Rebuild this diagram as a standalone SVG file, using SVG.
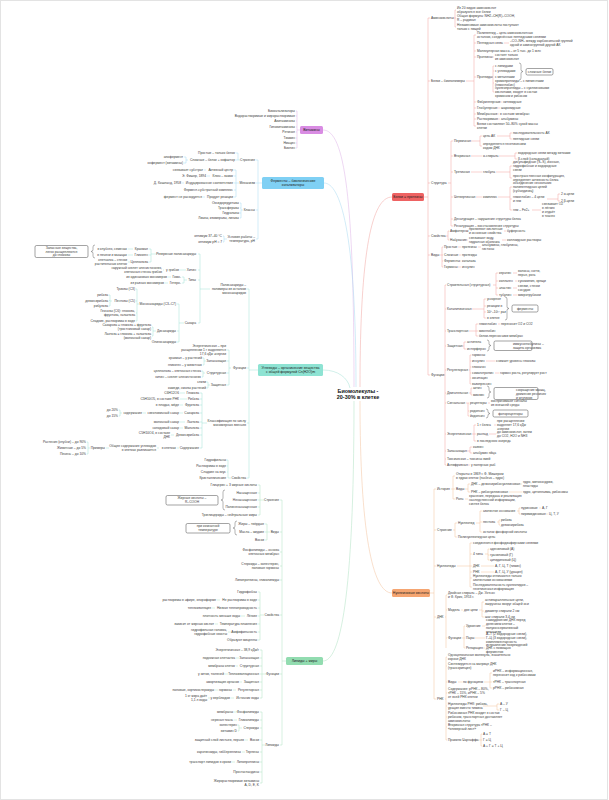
<svg xmlns="http://www.w3.org/2000/svg" width="609" height="800" viewBox="0 0 609 800">
<style>
text{font-family:"Liberation Sans",Arial,sans-serif}
.t{font-size:3.3px;fill:#3a3a3a}
.e{text-anchor:end}
.b{font-size:3.5px;fill:#222;text-anchor:middle}
.m{font-size:5.4px;font-weight:bold;fill:#111;text-anchor:middle}
.bx{fill:#fff;stroke:#333;stroke-width:.45}
.br{fill:none;stroke:#444;stroke-width:.4}
path{fill:none;stroke-width:.5}
.cr path{stroke:#f0a29e}.co path{stroke:#f3c19b}.cp path{stroke:#dcb0e6}
.cc path{stroke:#a6d8f1}.ct path{stroke:#a3e0d4}.cg path{stroke:#ade0c1}
</style>
<rect x="0.5" y="0.5" width="607" height="799" fill="#fff" stroke="#e3e3e3"/>
<g id="connectors">
<g class="cr">
<path d="M360,387C360,250 372,197 392,197"/>
<path d="M424,197H428M428,18V375M428,18H430M428,81H430M428,183H430M428,236H430M428,255H430M428,375H430"/>
<path d="M453,18H455M455,10V27M455,10H456M455,18H456M455,27H456"/>
<path d="M466,81H474M474,35V126M474,35H476M474,43H476M474,51H476M474,57H476M474,77H476M474,102H476M474,108H476M474,114H476M474,119H476M474,126H476"/>
<path d="M504,43H509M492,57H494M492,77H493M493,66V92M493,66H494M493,71H494M493,83H494M493,92H494M499,102H502M497,108H500M496,114H499M497,119H500"/>
<path d="M448,183H451M451,141V226M451,141H453M451,156H453M451,172H453M451,197H453M451,219H453M451,226H453"/>
<path d="M471,141H480M480,136V146M480,136H482M480,146H482M497,136H510M510,133V139M510,133H512M510,139H512"/>
<path d="M471,156H482M499,156H515M515,153V159M515,153H517M515,159H517M471,172H482M496,172H510M510,166V178M510,166H512M510,178H512"/>
<path d="M476,197H482M498,197H510M510,187V210M510,187H512M510,199H512M510,210H512M547,199H558M558,194V201M558,194H560M558,201H560M532,210H541"/>
<path d="M446,236H448M448,231V240M448,231H449M448,240H449M466,231H468M466,240H468M504,231H506M502,240H506"/>
<path d="M440,255H442M442,247V267M442,247H443M442,255H443M442,261H443M442,267H443M458,247H461M478,247H481M459,255H461M459,261H461M458,267H461"/>
<path d="M444,375H445M445,285V465M445,285H446M445,309H446M445,331H446M445,346H446M445,370H446M445,393H446M445,403H446M445,434H446M445,451H446M445,459H446M445,465H446"/>
<path d="M493,285H496M496,273V295M496,273H498M496,281H498M496,288H498M496,295H498M513,273H517M515,281H517M513,288H517M513,295H517"/>
<path d="M472,309H484M484,299V318M484,299H486M484,306H486M484,312H486M484,318H486"/>
<path d="M469,331H476M476,324V336M476,324H478M476,331H478M476,336H478M498,324H500"/>
<path d="M462,346H464M464,342V349M464,342H466M464,349H466"/>
<path d="M469,370H470M470,355V384M470,355H471M470,361H471M470,367H471M470,373H471M470,378H471M470,384H471M486,361H495M495,373H499"/>
<path d="M469,393H471M471,388V395M471,388H472M471,395H472"/>
<path d="M466,403H468M468,403V416M468,403H469M468,411H469M468,416H469M488,403H490"/>
<path d="M472,434H474M474,425V441M474,425H476M474,434H476M474,441H476M494,425H496M489,434H496"/>
<path d="M467,451H470M470,447V453M470,447H472M470,453H472M468,465H470"/>
</g>
<g class="co">
<path d="M360,401C360,530 372,593 392,593"/>
<path d="M430,593H434M434,489V699M434,489H436M434,530H436M434,566H436M434,617H436M434,699H436"/>
<path d="M451,489H453M453,476V499M453,476H455M453,489H455M453,499H455M465,489H468M468,484V492M468,484H470M468,492H470M520,484H522M509,492H522M465,499H468"/>
<path d="M453,530H455M455,523V537M455,523H457M455,537H457M476,523H480M480,511V532M480,511H482M480,522H482M480,532H482M517,511H519M519,508V514M519,508H520M519,514H520M539,508H541M546,514H548M497,522H499M499,520V525M499,520H500M499,525H500"/>
<path d="M457,566H470M470,543V587M470,543H472M470,554H472M470,566H472M470,572H472M470,578H472M470,587H472M485,554H488M488,549V560M488,549H489M488,555H489M488,560H489M481,566H494M481,572H494"/>
<path d="M445,617H446M446,595V648M446,595H447M446,610H447M446,638H447M461,610H463M479,610H482M482,602V617M482,602H484M482,611H484M482,617H484"/>
<path d="M462,638H464M464,626V648M464,626H465M464,638H465M464,648H465M482,626H485M475,638H485M483,648H485"/>
<path d="M445,699H446M446,657V740M446,657H447M446,666H447M446,682H447M446,693H447M446,706H447M446,717H447M446,727H447M446,740H447"/>
<path d="M458,682H462M484,682H490M490,673V688M490,673H492M490,682H492M490,688H492M483,706H497M497,704V710M497,704H499M497,710H499M478,740H481M481,734V746M481,734H482M481,740H482M481,746H482"/>
</g>
<g class="cp">
<path d="M354,387C354,200 345,130 323,130"/>
<path d="M300,130H297M297,111V148M297,111H296M297,116H296M297,121H296M297,127H296M297,132H296M297,138H296M297,143H296M297,148H296"/>
</g>
<g class="cc">
<path d="M356,387C356,230 340,183 324,183"/>
<path d="M262,183H258M258,160V239M258,160H256M258,183H256M258,210H256M258,239H256"/>
<path d="M240,160H238M238,153V160M238,153H236M238,160H236M188,160H186M186,157V163M186,157H184M186,163H184"/>
<path d="M239,183H236M236,170V197M236,170H234M236,176H234M236,183H234M236,190H234M236,197H234M206,170H204M210,176H207M184,183H182M205,197H203"/>
<path d="M243,210H241M241,203V218M241,203H240M241,208H240M241,213H240M241,218H240M227,239H224M224,236V242M224,236H223M224,242H223"/>
</g>
<g class="ct">
<path d="M350,388C348,378 338,370 323,370"/>
<path d="M258,370H249M249,289V478M249,289H247M249,368H247M249,423H247M249,478H247"/>
<path d="M210,289H200M200,254V323M200,254H198M200,270H198M200,280H198M200,323H198"/>
<path d="M157,254H151M151,249V262M151,249H149M151,255H149M151,262H149M133,249H128M133,255H128M130,262H128M186,270H180M164,270H163M187,280H184M184,277V283M184,277H182M184,283H182M171,277H168M168,283H165"/>
<path d="M184,323H179M179,304V342M179,304H177M179,331H177M179,342H177M139,304H137M137,289V321M137,289H136M137,301H136M137,313H136M137,321H136M112,301H110M110,295V306M110,295H109M110,300.5H109M110,306H109M156,331H153M153,327V336M153,327H152M153,336H152"/>
<path d="M231,368H229M229,350V385M229,350H227M229,361H227M229,373H227M229,385H227M206,361H204M204,358V365M204,358H203M204,365H203M205,373H203M203,371V377M203,371H202M203,377H202M210,385H208M208,382V388M208,382H207M208,388H207"/>
<path d="M207,423H202M202,393V448M202,393H200M202,399H200M202,405H200M202,413H200M202,422H200M202,428H200M202,435H200M202,448H200"/>
<path d="M185,393H180M187,399H180M183,405H180M183,413H180M185,422H180M183,428H180M174,435H171M146,413H143M122,413H120M120,410V416M120,410H119M120,416H119M179,448H177M159,448H157M109,448H106M90,448H88M88,442V454M88,442H87M88,454H87"/>
<path d="M231,478H228M228,460V478M228,460H227M228,466H227M228,472H227"/>
</g>
<g class="cg">
<path d="M354,401C354,600 340,661 323,661"/>
<path d="M286,661H282M282,500V745M282,500H280M282,532H280M282,552H280M282,566H280M282,580H280M282,615H280M282,674H280M282,745H280"/>
<path d="M264,500H260M260,485V515M260,485H258M260,493H258M260,500H258M260,507H258M260,515H258M270,532H267M267,524V540M267,524H265M267,532H265M267,540H265"/>
<path d="M264,615H260M260,592V640M260,592H258M260,600H258M260,608H258M260,616H258M260,624H258M260,632H258M260,640H258M220,600H217M215,608H212M245,616H241M218,624H215M231,632H228"/>
<path d="M266,674H262M262,650V698M262,650H260M262,658H260M262,666H260M262,674H260M262,682H260M262,690H260M262,698H260M239,658H236M238,666H236M228,674H225M242,682H240M236,690H233M218,690H215M234,698H231M210,698H208"/>
<path d="M265,745H262M262,712V783M262,712H260M262,720H260M262,728H260M262,740H260M262,752H260M262,762H260M262,772H260M262,783H260M237,712H234M237,720H234M242,728H239M239,725V731M239,725H238M239,731H238M248,740H245M245,752H242M235,762H232"/>
</g>
</g>
<g id="brackets">
<path class="br" d="M519,63Q521,63 521,65V69.5Q521,71.5 523,71.5Q521,71.5 521,73.5V78Q521,80 519,80"/>
<path class="br" d="M505,297Q507,297 507,299V306.5Q507,308.5 509,308.5Q507,308.5 507,310.5V318Q507,320 505,320"/>
<path class="br" d="M487,340Q489,340 489,342V343.5Q489,345.5 491,345.5Q489,345.5 489,347.5V349Q489,351 487,351"/>
<path class="br" d="M487,386Q489,386 489,388V390Q489,392 491,392Q489,392 489,394V396Q489,398 487,398"/>
<path class="br" d="M486,409Q488,409 488,411V411.5Q488,413.5 490,413.5Q488,413.5 488,415.5V416Q488,418 486,418"/>
<path class="br" d="M95,245Q93,245 93,247V249.5Q93,251.5 91,251.5Q93,251.5 93,253.5V256Q93,258 95,258"/>
<path class="br" d="M225,490Q223,490 223,492V498Q223,500 221,500Q223,500 223,502V508Q223,510 225,510"/>
<path class="br" d="M237,521Q235,521 235,523V526Q235,528 233,528Q235,528 235,530V533Q235,535 237,535"/>
</g>
<g id="center"><text class="m" x="358" y="393">Биомолекулы -</text><text class="m" x="358" y="399.3">20-30% в клетке</text></g>
<g id="red"><rect x="392" y="193" width="32" height="8" rx="1.5" fill="#ee6262"/><text class="b" x="408" y="198.3">Белки = протеины</text></g>
<g id="orange"><rect x="392" y="589" width="38" height="8" rx="1.5" fill="#f5a571"/><text class="b" x="411" y="594.3">Нуклеиновые кислоты</text></g>
<g id="purple"><rect x="300" y="126" width="23" height="8" rx="1.5" fill="#d98ce3"/><text class="b" x="311.5" y="131.3">Витамины</text></g>
<g id="cyan"><rect x="262" y="177" width="62" height="12" rx="1.5" fill="#7fd0f4"/><text class="b" x="293" y="182">Ферменты – биологические</text><text class="b" x="293" y="186">катализаторы</text></g>
<g id="teal"><rect x="258" y="364" width="65" height="12" rx="1.5" fill="#8ee3d3"/><text class="b" x="290.5" y="369">Углеводы – органические вещества</text><text class="b" x="290.5" y="373">с общей формулой Cn(H2O)m</text></g>
<g id="green"><rect x="286" y="657" width="37" height="8" rx="1.5" fill="#92dcb0"/><text class="b" x="304.5" y="662.3">Липиды + жиры</text></g>
<g class="t">
<g id="r1"><text x="431" y="19.1">Аминокислоты</text></g>
<g id="r1a"><text x="457" y="9.2">Из 20 видов аминокислот</text><text x="457" y="13">образуются все белки</text></g>
<g id="r1b"><text x="457" y="17.2">Общая формула: NH2–CH(R)–COOH,</text><text x="457" y="21">R – радикал</text></g>
<g id="r1c"><text x="457" y="26.2">Незаменимые аминокислоты поступают</text><text x="457" y="30">только с пищей</text></g>
<g id="r2"><text x="431" y="82.1">Белки – биополимеры</text></g>
<g id="r2a"><text x="477" y="34.2">Полипептид – цепь аминокислотных</text><text x="477" y="38">остатков, соединённых пептидными связями</text></g>
<g id="r2b"><text x="477" y="44.1">Пептидная связь</text></g>
<g id="r2b1"><text x="510" y="42.2">–CO–NH– между карбоксильной группой</text><text x="510" y="46">одной и аминогруппой другой АК</text></g>
<g id="r2c"><text x="477" y="52.1">Молекулярная масса – от 5 тыс. до 1 млн</text></g>
<g id="r2d"><text x="477" y="58.1">Протеины</text></g>
<g id="r2d1"><text x="495" y="56.2">состоят только</text><text x="495" y="60">из аминокислот</text></g>
<g id="r2e"><text x="477" y="78.1">Протеиды</text></g>
<g id="r2e1"><text x="495" y="67.1">с липидами</text></g>
<g id="r2e2"><text x="495" y="72.1">с углеводами</text></g>
<g id="r2e3"><text x="495" y="78.1">с металлами</text></g>
<g id="r2e4"><text x="495" y="82.2">хромопротеиды – с пигментами</text><text x="495" y="86">(гемоглобин)</text></g>
<g id="r2e5"><text x="495" y="89.3">нуклеопротеиды – с нуклеиновыми</text><text x="495" y="93.1">кислотами, входят в состав</text><text x="495" y="96.9">хромосом и рибосом</text></g>
<g id="r2box"><rect class="bx" x="526" y="68.5" width="27" height="6.5" rx="1.5"/><text x="539.5" y="73" text-anchor="middle">сложные белки</text></g>
<g id="r2f"><text x="477" y="103.1">Фибриллярные</text><text x="503" y="103.1">нитевидные</text></g>
<g id="r2g"><text x="477" y="109.1">Глобулярные</text><text x="501" y="109.1">шаровидные</text></g>
<g id="r2h"><text x="477" y="115.1">Мембранные</text><text x="500" y="115.1">в составе мембран</text></g>
<g id="r2i"><text x="477" y="120.1">Растворимые</text><text x="501" y="120.1">альбумины</text></g>
<g id="r2j"><text x="477" y="125.2">Белки составляют 50–80% сухой массы</text><text x="477" y="129">клетки</text></g>
<g id="r3"><text x="431" y="184.1">Структура</text></g>
<g id="r3a"><text x="454" y="142.1">Первичная</text><text x="483" y="137.1">цепь АК</text><text x="513" y="134.1">последовательность АК</text><text x="513" y="140.1">пептидные связи</text><text x="483" y="145.2">определяется генетическим</text><text x="483" y="149">кодом ДНК</text></g>
<g id="r3b"><text x="454" y="157.1">Вторичная</text><text x="483" y="157.1">α-спираль</text><text x="518" y="154.1">водородные связи между витками</text><text x="518" y="160.1">β-слой (складчатый)</text></g>
<g id="r3c"><text x="454" y="173.1">Третичная</text><text x="483" y="173.1">глобула</text><text x="513" y="163.3">дисульфидные (S–S), ионные,</text><text x="513" y="167.1">гидрофобные и водородные</text><text x="513" y="170.9">связи</text><text x="513" y="177.2">пространственная конфигурация,</text><text x="513" y="181">определяет активность белка</text></g>
<g id="r3d"><text x="454" y="198.1">Четвертичная</text><text x="483" y="198.1">комплекс</text><text x="513" y="184.3">объединение нескольких</text><text x="513" y="188.1">полипептидных цепей</text><text x="513" y="191.9">(субъединиц)</text><text x="513" y="198.2">гемоглобин – 4 цепи</text><text x="513" y="202">и гем</text><text x="561" y="195.1">2 α-цепи</text><text x="561" y="202.1">2 β-цепи</text><text x="513" y="211.1">гем – Fe2+</text><text x="542" y="205.4">связывает O2</text><text x="542" y="209.2">в лёгких</text><text x="542" y="213">и отдаёт</text><text x="542" y="216.8">в тканях</text></g>
<g id="r3e"><text x="454" y="220.1">Денатурация – нарушение структуры белка</text></g>
<g id="r3f"><text x="454" y="227.1">Ренатурация – восстановление структуры</text></g>
<g id="r4"><text x="431" y="237.1">Свойства</text></g>
<g id="r4a"><text x="450" y="232.1">Амфотерны</text><text x="469" y="230.2">проявляют кислотные</text><text x="469" y="234">и основные свойства</text><text x="507" y="232.1">буферность</text></g>
<g id="r4b"><text x="450" y="241.1">Набухание</text><text x="469" y="239.2">связывают воду,</text><text x="469" y="243">гидратная оболочка</text><text x="507" y="241.1">коллоидные растворы</text></g>
<g id="r5"><text x="431" y="256.1">Виды</text></g>
<g id="r5a"><text x="444" y="248.1">Простые</text><text x="462" y="248.1">протеины</text><text x="482" y="246.2">альбумины, глобулины,</text><text x="482" y="250">гистоны</text></g>
<g id="r5b"><text x="444" y="256.1">Сложные</text><text x="462" y="256.1">протеиды</text></g>
<g id="r5c"><text x="444" y="262.1">Ферменты</text><text x="462" y="262.1">каталаза</text></g>
<g id="r5d"><text x="444" y="268.1">Гормоны</text><text x="462" y="268.1">инсулин</text></g>
<g id="r6"><text x="431" y="376.1">Функции</text></g>
<g id="r6a"><text x="447" y="286.1">Строительная (структурная)</text><text x="499" y="274.1">кератин</text><text x="518" y="272.2">волосы, ногти,</text><text x="518" y="276">перья, рога</text><text x="499" y="282.1">коллаген</text><text x="518" y="282.1">сухожилия, хрящи</text><text x="499" y="289.1">эластин</text><text x="518" y="287.2">связки, стенки</text><text x="518" y="291">сосудов</text><text x="499" y="296.1">тубулин</text><text x="518" y="296.1">микротрубочки</text></g>
<g id="r6b"><text x="447" y="310.1">Каталитическая</text><text x="487" y="300.1">ускоряют</text><text x="487" y="307.1">реакции в</text><text x="487" y="313.1">10⁶–10¹² раз</text><text x="487" y="319.1">в клетке</text><rect class="bx" x="512" y="305" width="26" height="7" rx="1.5"/><text x="525" y="309.7" text-anchor="middle">ферменты</text></g>
<g id="r6c"><text x="447" y="332.1">Транспортная</text><text x="479" y="325.1">гемоглобин</text><text x="501" y="325.1">переносит O2 и CO2</text><text x="479" y="332.1">миоглобин</text><text x="479" y="337.1">белки-переносчики мембран</text></g>
<g id="r6d"><text x="447" y="347.1">Защитная</text><text x="467" y="343.1">антитела</text><text x="467" y="350.1">интерферон</text><rect class="bx" x="494" y="341" width="38" height="9.5" rx="1.5"/><text x="513" y="345">иммуноглобулины –</text><text x="513" y="348.8">защита организма</text></g>
<g id="r6e"><text x="447" y="371.1">Регуляторная</text><text x="472" y="356.1">гормоны</text><text x="472" y="362.1">инсулин</text><text x="496" y="362.1">снижает уровень глюкозы</text><text x="472" y="368.1">глюкагон</text><text x="472" y="374.1">соматотропин</text><text x="500" y="374.1">гормон роста, регулирует рост</text><text x="472" y="379.1">окситоцин</text><text x="472" y="385.1">вазопрессин</text></g>
<g id="r6f"><text x="447" y="394.1">Двигательная</text><text x="473" y="389.1">актин</text><text x="473" y="396.1">миозин</text><rect class="bx" x="494" y="387.5" width="44" height="12" rx="1.5"/><text x="516" y="391">сокращение мышц,</text><text x="516" y="394.8">движение ресничек</text><text x="516" y="398.6">и жгутиков</text></g>
<g id="r6g"><text x="447" y="404.1">Сигнальная</text><text x="470" y="404.1">рецепторы</text><text x="491" y="402.2">воспринимают сигналы</text><text x="491" y="406">из внешней среды</text><text x="470" y="412.1">родопсин</text><text x="470" y="417.1">йодопсин</text><rect class="bx" x="493" y="410" width="35" height="7" rx="1.5"/><text x="510.5" y="414.6" text-anchor="middle">фоторецепторы</text></g>
<g id="r6h"><text x="447" y="435.1">Энергетическая</text><text x="477" y="426.1">1 г белка</text><text x="497" y="422.3">при расщеплении</text><text x="497" y="426.1">выделяет 17,6 кДж</text><text x="497" y="429.9">энергии</text><text x="477" y="435.1">распад</text><text x="497" y="433.2">до аминокислот, затем</text><text x="497" y="437">до CO2, H2O и NH3</text><text x="477" y="442.1">в последнюю очередь</text></g>
<g id="r6i"><text x="447" y="452.1">Запасающая</text><text x="473" y="448.1">казеин</text><text x="473" y="454.1">альбумин яйца</text></g>
<g id="r6j"><text x="447" y="460.1">Токсическая – токсины змей</text></g>
<g id="r6k"><text x="447" y="466.1">Антифризная</text><text x="471" y="466.1">у полярных рыб</text></g>
<g id="o1"><text x="437" y="490.1">История</text><text x="456" y="475.2">Открыты в 1869 г. Ф. Мишером</text><text x="456" y="479">в ядрах клеток (nucleus – ядро)</text><text x="456" y="490.1">Виды</text><text x="471" y="485.1">ДНК – дезоксирибонуклеиновая</text><text x="523" y="483.2">ядро, митохондрии,</text><text x="523" y="487">пластиды</text><text x="471" y="493.1">РНК – рибонуклеиновая</text><text x="523" y="493.1">ядро, цитоплазма, рибосомы</text><text x="456" y="500.1">Роль</text><text x="469" y="497.3">хранение, передача и реализация</text><text x="469" y="501.1">наследственной информации,</text><text x="469" y="504.9">синтез белка</text></g>
<g id="o2"><text x="437" y="531.1">Строение</text><text x="458" y="524.1">Нуклеотид</text><text x="483" y="512.1">азотистое основание</text><text x="521" y="509.1">пуриновые</text><text x="542" y="509.1">А, Г</text><text x="521" y="515.1">пиримидиновые</text><text x="549" y="515.1">Ц, Т, У</text><text x="483" y="523.1">пентоза</text><text x="501" y="520.6">рибоза</text><text x="501" y="526.1">дезоксирибоза</text><text x="483" y="533.1">остаток фосфорной кислоты</text><text x="458" y="538.1">Полинуклеотидная цепь</text></g>
<g id="o3"><text x="437" y="567.1">Нуклеотиды</text><text x="473" y="544.1">соединяются фосфодиэфирными связями</text><text x="473" y="555.1">4 типа</text><text x="490" y="550.1">адениловый (А)</text><text x="490" y="556.1">гуаниловый (Г)</text><text x="490" y="561.1">цитидиловый (Ц)</text><text x="473" y="567.1">ДНК</text><text x="495" y="567.1">А, Г, Ц, Т (тимин)</text><text x="473" y="573.1">РНК</text><text x="495" y="573.1">А, Г, Ц, У (урацил)</text><text x="473" y="577.2">Нуклеотиды отличаются только</text><text x="473" y="581">азотистыми основаниями</text><text x="473" y="586.2">Последовательность нуклеотидов –</text><text x="473" y="590">генетическая информация</text></g>
<g id="o4"><text x="437" y="618.1">ДНК</text><text x="448" y="594.2">Двойная спираль – Дж. Уотсон</text><text x="448" y="598">и Ф. Крик, 1953 г.</text><text x="448" y="611.1">Модель</text><text x="464" y="611.1">две цепи</text><text x="485" y="601.2">антипараллельные цепи,</text><text x="485" y="605">закручены вокруг общей оси</text><text x="485" y="612.1">диаметр спирали 2 нм</text><text x="485" y="618.1">шаг спирали 3,4 нм</text><text x="448" y="639.1">Функции</text><text x="466" y="627.1">Удвоение</text><text x="486" y="621.4">самоудвоение ДНК перед</text><text x="486" y="625.2">делением клетки –</text><text x="486" y="629">полуконсервативный</text><text x="486" y="632.8">механизм</text><text x="466" y="639.1">Пары</text><text x="486" y="635.3">А–Т (2 водородные связи),</text><text x="486" y="639.1">Г–Ц (3 водородные связи),</text><text x="486" y="642.9">комплементарность</text><text x="466" y="649.1">Репарация</text><text x="486" y="645.6">исправление повреждений</text><text x="486" y="649.4">ДНК с помощью</text><text x="486" y="653.2">ферментов</text></g>
<g id="o5"><text x="437" y="700.1">РНК</text><text x="448" y="656.2">Одноцепочечная молекула, значительно</text><text x="448" y="660">короче ДНК</text><text x="448" y="665.2">Синтезируется на матрице ДНК</text><text x="448" y="669">(транскрипция)</text><text x="448" y="683.1">Виды</text><text x="463" y="683.1">по функциям</text><text x="493" y="672.2">иРНК – информационная,</text><text x="493" y="676">переносит код к рибосомам</text><text x="493" y="683.1">тРНК – транспортная</text><text x="493" y="689.1">рРНК – рибосомная</text><text x="448" y="690.3">Содержание: рРНК – 80%,</text><text x="448" y="694.1">тРНК – 15%, иРНК – 5%</text><text x="448" y="697.9">от всей РНК клетки</text><text x="448" y="705.2">Нуклеотиды РНК: рибоза,</text><text x="448" y="709">урацил вместо тимина</text><text x="500" y="705.1">А – У</text><text x="500" y="711.1">Г – Ц</text><text x="448" y="714.3">Рибосомная РНК входит в состав</text><text x="448" y="718.1">рибосом, транспортная доставляет</text><text x="448" y="721.9">аминокислоты</text><text x="448" y="726.2">Вторичная структура тРНК –</text><text x="448" y="730">«клеверный лист»</text><text x="448" y="741.1">Правило Чаргаффа</text><text x="483" y="735.1">А = Т</text><text x="483" y="741.1">Г = Ц</text><text x="483" y="747.1">А + Г = Т + Ц</text></g>
</g>
<g class="t e">
<g id="p1"><text x="295" y="112.1">Биокатализаторы</text><text x="295" y="117.1">Водорастворимые и жирорастворимые</text><text x="295" y="122.1">Авитаминозы</text><text x="295" y="128.1">Гиповитаминозы</text><text x="295" y="133.1">Ретинол</text><text x="295" y="139.1">Тиамин</text><text x="295" y="144.1">Ниацин</text><text x="295" y="149.1">Биотин</text></g>
<g id="c1"><text x="255" y="161.1">Строение</text><text x="235" y="154.1">Простые – только белок</text><text x="235" y="161.1">Сложные – белок + кофактор</text><text x="183" y="158.1">апофермент</text><text x="183" y="164.1">кофермент (витамины)</text></g>
<g id="c2"><text x="255" y="184.1">Механизм</text><text x="233" y="171.1">Активный центр</text><text x="203" y="171.1">связывает субстрат</text><text x="233" y="177.1">Ключ – замок</text><text x="206" y="177.1">Э. Фишер, 1894</text><text x="233" y="184.1">Индуцированное соответствие</text><text x="181" y="184.1">Д. Кошланд, 1958</text><text x="233" y="191.1">Фермент-субстратный комплекс</text><text x="233" y="198.1">Продукт реакции</text><text x="202" y="198.1">фермент не расходуется</text></g>
<g id="c3"><text x="255" y="211.1">Классы</text><text x="239" y="204.1">Оксидоредуктазы</text><text x="239" y="209.1">Трансферазы</text><text x="239" y="214.1">Гидролазы</text><text x="239" y="219.1">Лиазы, изомеразы, лигазы</text></g>
<g id="c4"><text x="255" y="238.2">Условия работы –</text><text x="255" y="242">температура, pH</text><text x="222" y="237.1">оптимум 37–40 °C</text><text x="222" y="243.1">оптимум pH ≈ 7</text></g>
<g id="t1"><text x="246" y="286.3">Полисахариды –</text><text x="246" y="290.1">полимеры из остатков</text><text x="246" y="293.9">моносахаридов</text></g>
<g id="t1a"><text x="196" y="255.1">Резервные полисахариды</text><text x="148" y="250.1">Крахмал</text><text x="127" y="250.1">в клубнях, семенах</text><text x="148" y="256.1">Гликоген</text><text x="127" y="256.1">в печени и мышцах</text><text x="148" y="263.1">Целлюлоза</text><text x="127" y="261.2">клетчатка – стенки</text><text x="127" y="265">растительных клеток</text></g>
<g id="t1box"><rect class="bx" x="35" y="245.5" width="53" height="12" rx="1.5"/><text x="61.5" y="248.8" text-anchor="middle">Запасные вещества,</text><text x="61.5" y="252.6" text-anchor="middle">легко расщепляются</text><text x="61.5" y="256.4" text-anchor="middle">до глюкозы</text></g>
<g id="t1b"><text x="196" y="271.1">Хитин</text><text x="179" y="271.1">у грибов</text><text x="162" y="269.2">наружный скелет членистоногих,</text><text x="162" y="273">клеточная стенка грибов</text></g>
<g id="t1c"><text x="196" y="281.1">Типы</text><text x="181" y="278.1">Гомо-</text><text x="167" y="278.1">из одинаковых мономеров</text><text x="181" y="284.1">Гетеро-</text><text x="164" y="284.1">из разных мономеров</text></g>
<g id="t1d"><text x="196" y="324.1">Сахара</text><text x="176" y="305.1">Моносахариды (C3–C7)</text><text x="135" y="290.1">Триозы (C3)</text><text x="135" y="302.1">Пентозы (C5)</text><text x="108" y="296.1">рибоза</text><text x="108" y="301.6">дезоксирибоза</text><text x="108" y="307.1">рибулоза</text><text x="135" y="312.2">Гексозы (C6): глюкоза,</text><text x="135" y="316">фруктоза, галактоза</text><text x="135" y="322.1">Сладкие, растворимы в воде</text><text x="176" y="332.1">Дисахариды</text><text x="151" y="326.2">Сахароза = глюкоза + фруктоза</text><text x="151" y="330">(тростниковый сахар)</text><text x="151" y="335.2">Лактоза = глюкоза + галактоза</text><text x="151" y="339">(молочный сахар)</text><text x="176" y="343.1">Олигосахариды</text></g>
<g id="t2"><text x="246" y="369.1">Функции</text><text x="226" y="347.3">Энергетическая – при</text><text x="226" y="351.1">расщеплении 1 г выделяется</text><text x="226" y="354.9">17,6 кДж энергии</text><text x="226" y="362.1">Запасающая</text><text x="202" y="359.1">крахмал – у растений</text><text x="202" y="366.1">гликоген – у животных</text><text x="226" y="374.1">Структурная</text><text x="201" y="372.1">целлюлоза – клеточная стенка</text><text x="201" y="378.1">хитин – скелет членистоногих</text><text x="226" y="386.1">Защитная</text><text x="206" y="383.1">слизи</text><text x="206" y="389.1">камеди, смолы растений</text></g>
<g id="t3"><text x="246" y="422.2">Классификация по числу</text><text x="246" y="426">мономерных звеньев</text><text x="199" y="394.1">Глюкоза</text><text x="179" y="394.1">C6H12O6</text><text x="199" y="400.1">Рибоза</text><text x="179" y="400.1">C5H10O5, в составе РНК</text><text x="199" y="406.1">Фруктоза</text><text x="179" y="406.1">в плодах, мёде</text><text x="199" y="414.1">Сахароза</text><text x="179" y="414.1">свекловичный сахар</text><text x="142" y="414.1">содержание</text><text x="118" y="411.1">до 20%</text><text x="118" y="417.1">до 15%</text><text x="199" y="423.1">Лактоза</text><text x="179" y="423.1">молочный сахар</text><text x="199" y="429.1">Мальтоза</text><text x="179" y="429.1">солодовый сахар</text><text x="199" y="436.1">Дезоксирибоза</text><text x="170" y="434.2">C5H10O4, в составе</text><text x="170" y="438">ДНК</text><text x="199" y="449.1">Содержание</text><text x="176" y="449.1">в клетках</text><text x="156" y="447.2">Общее содержание углеводов</text><text x="156" y="451">в клетках различается</text><text x="105" y="449.1">Примеры</text><text x="86" y="443.1">Растения (клубни) – до 90%</text><text x="86" y="449.1">Животные – до 5%</text><text x="86" y="455.1">Печень – до 10%</text></g>
<g id="t4"><text x="246" y="479.1">Свойства</text><text x="226" y="461.1">Гидрофильны</text><text x="226" y="467.1">Растворимы в воде</text><text x="226" y="473.1">Сладкие на вкус</text><text x="226" y="479.1">Кристаллические</text></g>
<g id="g1"><text x="279" y="501.1">Строение</text><text x="257" y="486.1">Глицерин + 3 жирные кислоты</text><text x="257" y="494.1">Насыщенные</text><text x="257" y="501.1">Ненасыщенные</text><text x="257" y="508.1">Полиненасыщенные</text><text x="257" y="516.1">Триглицериды – нейтральные жиры</text></g>
<g id="g1box"><rect class="bx" x="166" y="495.5" width="52" height="9.5" rx="1.5"/><text x="192" y="499.2" text-anchor="middle">Жирные кислоты –</text><text x="192" y="503" text-anchor="middle">R–COOH</text></g>
<g id="g2"><text x="279" y="533.1">Виды</text><text x="264" y="525.1">Жиры – твёрдые</text><text x="264" y="533.1">Масла – жидкие</text><text x="264" y="541.1">Воски</text></g>
<g id="g2box"><rect class="bx" x="186" y="523.5" width="44" height="9.5" rx="1.5"/><text x="208" y="527.2" text-anchor="middle">при комнатной</text><text x="208" y="531" text-anchor="middle">температуре</text></g>
<g id="g3"><text x="279" y="551.2">Фосфолипиды – основа</text><text x="279" y="555">клеточных мембран</text></g>
<g id="g4"><text x="279" y="565.2">Стероиды – холестерин,</text><text x="279" y="569">половые гормоны</text></g>
<g id="g5"><text x="279" y="581.1">Липопротеины, гликолипиды</text></g>
<g id="g6"><text x="279" y="616.1">Свойства</text><text x="257" y="593.1">Гидрофобны</text><text x="257" y="601.1">Не растворимы в воде</text><text x="216" y="601.1">растворимы в эфире, хлороформе</text><text x="257" y="609.1">Низкая теплопроводность</text><text x="211" y="609.1">теплоизоляция</text><text x="257" y="617.1">Лёгкие</text><text x="240" y="617.1">плотность меньше воды</text><text x="257" y="625.1">Температура плавления</text><text x="214" y="625.1">зависит от жирных кислот</text><text x="257" y="633.1">Амфифильность</text><text x="227" y="631.2">гидрофильная головка,</text><text x="227" y="635">гидрофобные хвосты</text><text x="257" y="641.1">Образуют мицеллы</text></g>
<g id="g7"><text x="279" y="675.1">Функции</text><text x="259" y="651.1">Энергетическая – 38,9 кДж/г</text><text x="259" y="659.1">Запасающая</text><text x="235" y="659.1">подкожная клетчатка</text><text x="259" y="667.1">Структурная</text><text x="235" y="667.1">мембраны клеток</text><text x="259" y="675.1">Теплоизоляционная</text><text x="224" y="675.1">у китов, тюленей</text><text x="259" y="683.1">Защитная</text><text x="239" y="683.1">амортизация органов</text><text x="259" y="691.1">Регуляторная</text><text x="232" y="691.1">гормоны</text><text x="214" y="691.1">половые, кортикостероиды</text><text x="259" y="699.1">Источник воды</text><text x="230" y="699.1">у верблюдов</text><text x="207" y="697.2">1 кг жира даёт</text><text x="207" y="701">1,1 л воды</text></g>
<g id="g8"><text x="279" y="746.1">Липоиды</text><text x="259" y="713.1">Фосфолипиды</text><text x="233" y="713.1">мембраны</text><text x="259" y="721.1">Гликолипиды</text><text x="233" y="721.1">нервная ткань</text><text x="259" y="729.1">Стероиды</text><text x="237" y="726.1">холестерин</text><text x="237" y="732.1">витамин D</text><text x="259" y="741.1">Воски</text><text x="244" y="741.1">защитный слой листьев, перьев</text><text x="259" y="753.1">Терпены</text><text x="241" y="753.1">каротиноиды, гиббереллины</text><text x="259" y="763.1">Липопротеины</text><text x="231" y="763.1">транспорт липидов в крови</text><text x="259" y="773.1">Простагландины</text><text x="259" y="782.2">Жирорастворимые витамины</text><text x="259" y="786">A, D, E, K</text></g>
</g>
</svg>
